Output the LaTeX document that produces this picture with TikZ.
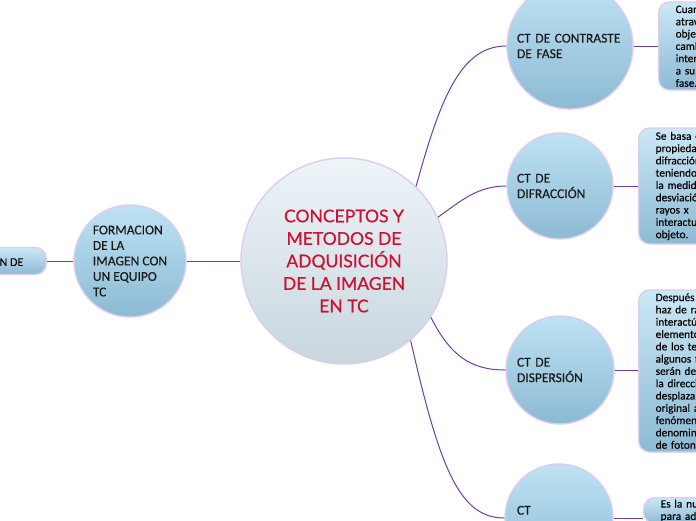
\documentclass[tikz,border=0pt]{standalone}
\usepackage{fontspec}
\setmainfont{Carlito}[FakeBold=0.3]
\newfontfamily\titlefont{Lato}[FakeBold=0.7]
\usetikzlibrary{calc}
\definecolor{bubbleTop}{RGB}{190,226,243}
\definecolor{bubbleBot}{RGB}{140,186,212}
\definecolor{coreTop}{RGB}{238,244,248}
\definecolor{coreBot}{RGB}{200,214,222}
\definecolor{rimLav}{RGB}{222,204,236}
\definecolor{linkPurple}{RGB}{112,62,160}
\definecolor{titleRed}{RGB}{204,18,52}

\begin{document}
\begin{tikzpicture}[x=1pt, y=-1pt,
  bubble/.style={circle, draw=rimLav, line width=1.4pt, top color=bubbleTop, bottom color=bubbleBot,
    inner sep=0pt, align=left, text=black!90, font=\fontsize{13.5}{15.5}\selectfont},
  core/.style={circle, draw=rimLav, line width=1.4pt, top color=coreTop, bottom color=coreBot,
    minimum size=206pt, inner sep=0pt, align=center, text=titleRed, font=\titlefont\fontsize{17.5}{22.5}\selectfont},
  note/.style={rectangle, rounded corners=11pt, draw=rimLav, line width=1.4pt, top color=bubbleTop!80!white,
    bottom color=bubbleBot, align=left, inner xsep=17pt, inner ysep=3pt, font=\fontsize{11.3}{12.3}\selectfont},
  link/.style={draw=linkPurple, line width=1pt}]
  \fill[white] (0,0) rectangle (696,520);
  \useasboundingbox (0,0) rectangle (696,520);

  % main topic and left branch
  \node[core] (centro) at (344,261) {CONCEPTOS Y\\METODOS DE\\ADQUISICIÓN\\DE LA IMAGEN\\EN TC};
  \node[bubble, minimum size=112pt] (formacion) at (130,261) {FORMACION\\DE LA\\IMAGEN CON\\UN EQUIPO\\TC};
  \node[note, anchor=east, inner xsep=23pt, minimum height=27pt, font=\fontsize{12}{14}\selectfont] (izq) at (47,261) {IÓN DE};

  % right branches
  \node[bubble, minimum size=126pt, text width=106pt] (contraste) at (570,46) {CT DE CONTRASTE\\DE FASE};
  \node[bubble, minimum size=106pt, text width=86pt] (difraccion) at (560,186) {CT DE\\DIFRACCIÓN};
  \node[bubble, minimum size=108pt, text width=86pt] (dispersion) at (560,370) {CT DE\\DISPERSIÓN};
  \node[bubble, minimum size=108pt, text width=84pt] (ctnueva) at (559,518) {CT\\\mbox{}};

  % notes
  \node[note, anchor=west, text width=110pt, minimum height=88pt] (nota1) at (658,46)
    {Cuand\\através\\objeto\\cambio\\intensi\\a su v\\fase.};
  \node[note, anchor=west, text width=110pt, minimum height=116pt] (nota2) at (638,186)
    {Se basa en\\propiedades\\difracción\\teniendo en\\la medida d\\desviación d\\rayos x\\interactuar\\objeto.};
  \node[note, anchor=west, text width=110pt, minimum height=162pt] (nota3) at (638,371)
    {Después de\\haz de rayos\\interactúa c\\elementos\\de los tejidos\\algunos foto\\serán desvia\\la dirección\\desplazamien\\original a es\\fenómeno\\denomina\\de fotones.};
  \node[note, anchor=north west, text width=110pt, inner ysep=2pt] (nota4) at (643,497)
    {Es la nueva\\para adquirir};

  \draw[link] (izq) -- (formacion);
  \draw[link] (formacion) -- (centro);
  \draw[link] (centro.46) .. controls (440,100) and (460,46) .. (contraste.west);
  \draw[link] (centro.25) .. controls (462,200) and (478,186) .. (difraccion.west);
  \draw[link] (centro.-33) .. controls (450,355) and (470,370) .. (dispersion.west);
  \draw[link] (centro.-50) .. controls (440,470) and (460,518) .. (ctnueva.west);
  \foreach \c/\n in {contraste/nota1, difraccion/nota2, dispersion/nota3, ctnueva/nota4}
    \draw[link] (\c.east) -- (\c.east -| \n.west);
\end{tikzpicture}
\end{document}
